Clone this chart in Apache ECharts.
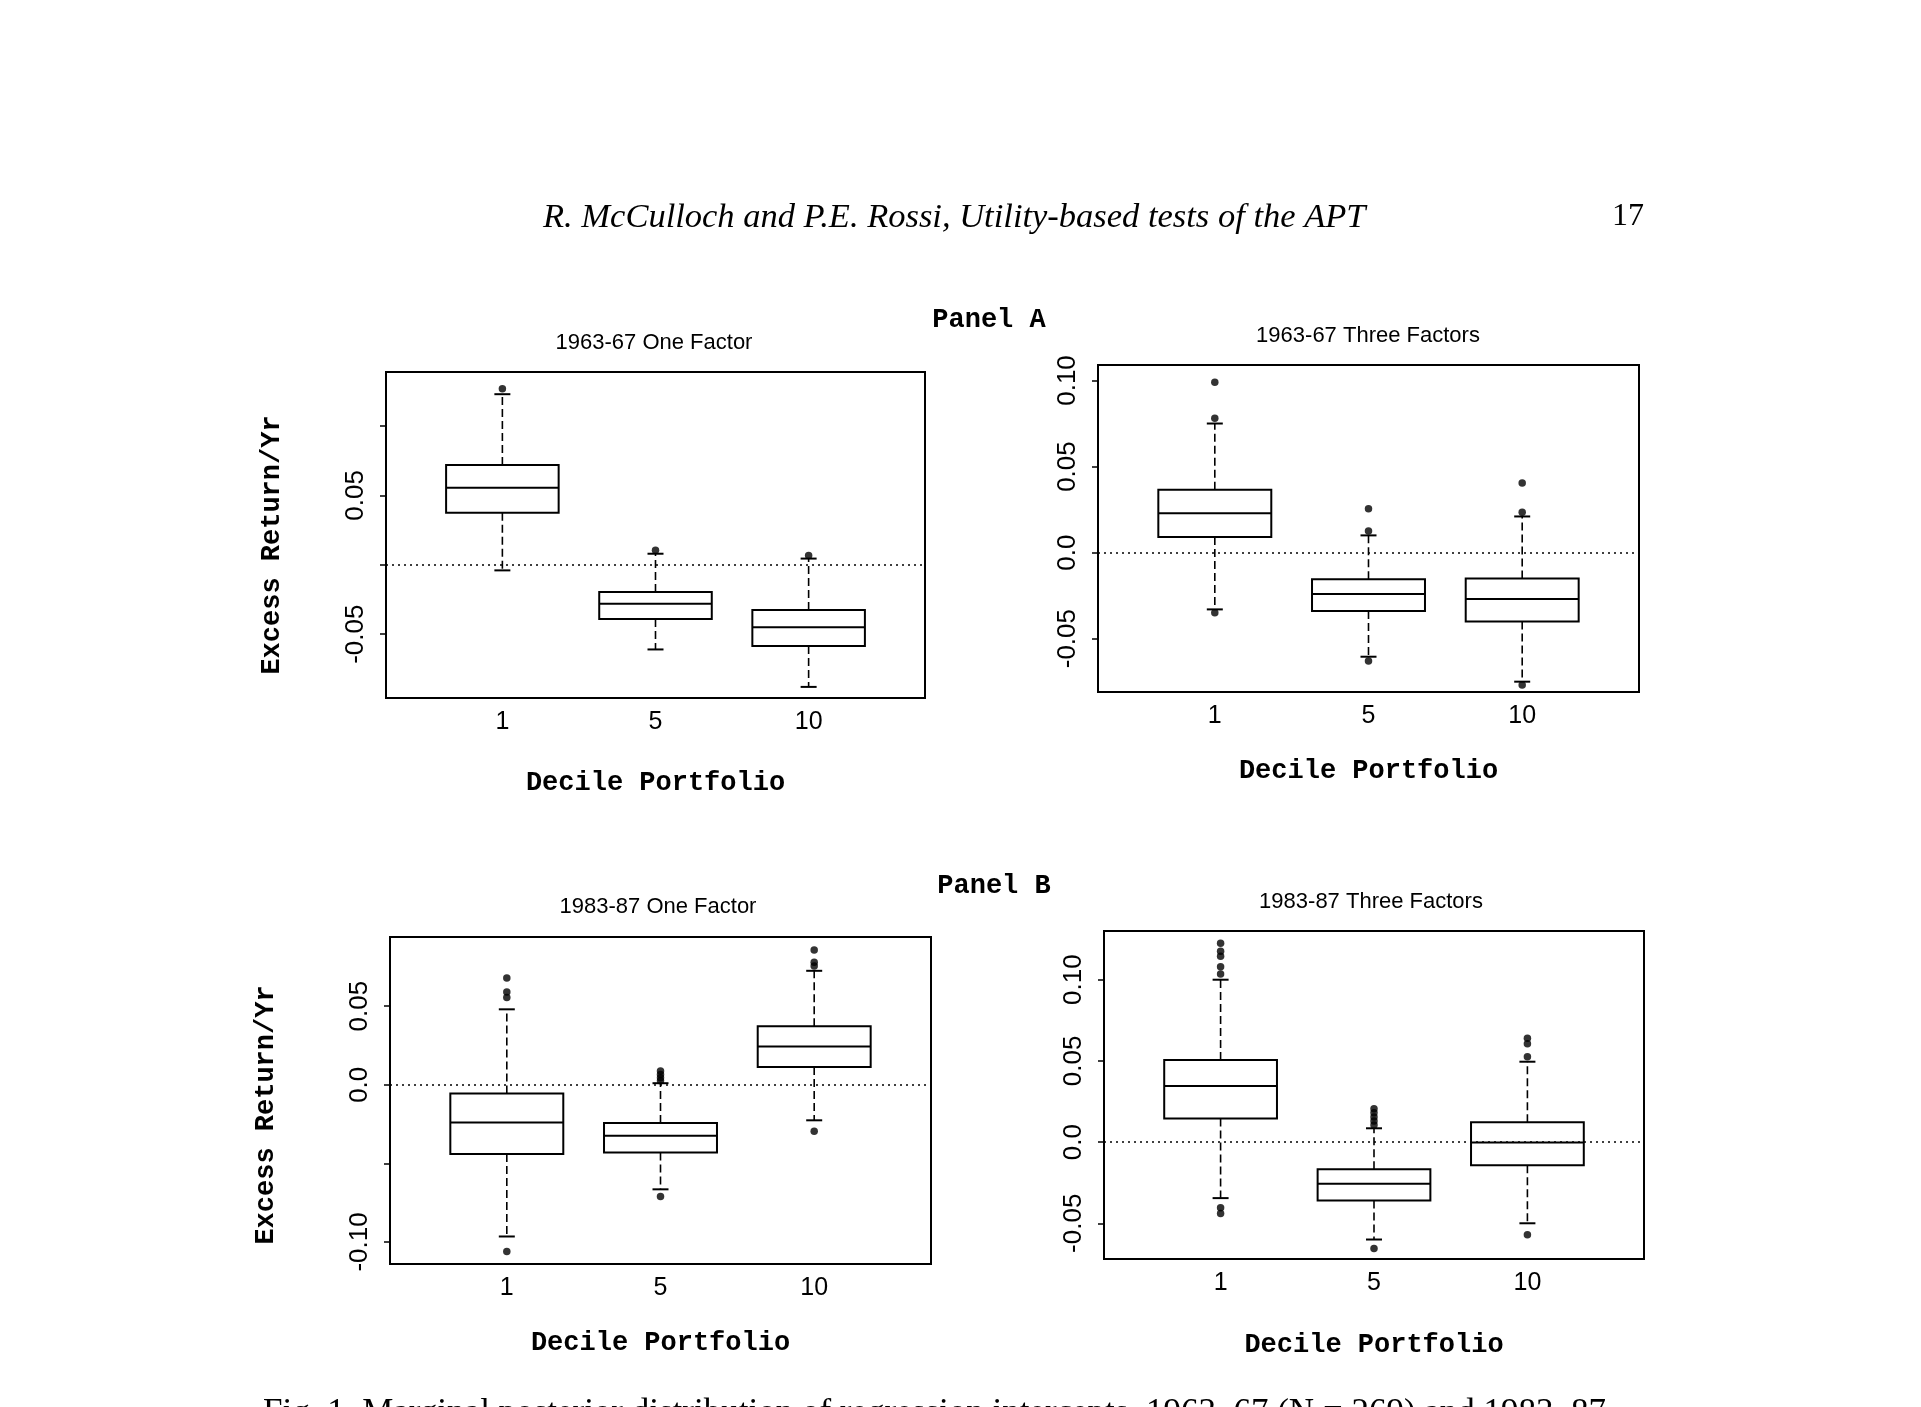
<!DOCTYPE html>
<html>
<head>
<meta charset="utf-8">
<script src="https://cdn.jsdelivr.net/npm/echarts@6/dist/echarts.min.js"></script>
<style>
  html, body { margin: 0; padding: 0; background: #fff; }
  #chart { width: 1921px; height: 1407px; }
</style>
</head>
<body>
<div id="chart"></div>
<script>
// Fig. 1: posterior distribution of regression intercepts, four boxplot panels.

const deciles = ['1', '5', '10'];

// rows: [decile index, lower whisker, Q1, median, Q3, upper whisker]
const oneFactor6367 = [
  [1, -0.004, 0.0375, 0.0555, 0.072, 0.123],
  [2, -0.061, -0.039, -0.028, -0.0195, 0.008],
  [3, -0.088, -0.0585, -0.045, -0.0325, 0.0045]
];
const oneFactor6367Out = [[1, 0.127], [2, 0.0105], [3, 0.0068]];

const threeFactor6367 = [
  [1, -0.033, 0.009, 0.0228, 0.0365, 0.075],
  [2, -0.0605, -0.034, -0.024, -0.0155, 0.010],
  [3, -0.075, -0.040, -0.027, -0.015, 0.021]
];
const threeFactor6367Out = [
  [1, 0.078], [1, 0.099], [1, -0.035],
  [2, 0.0125], [2, 0.0255], [2, -0.063],
  [3, 0.0235], [3, 0.0405], [3, -0.077]
];

const oneFactor8387 = [
  [1, -0.0965, -0.044, -0.024, -0.0055, 0.048],
  [2, -0.0665, -0.043, -0.0325, -0.0243, 0.001],
  [3, -0.0226, 0.0113, 0.0244, 0.0372, 0.0725]
];
const oneFactor8387Out = [
  [1, 0.0555], [1, 0.059], [1, 0.068], [1, -0.106],
  [2, 0.0025], [2, 0.0045], [2, 0.0065], [2, 0.0088], [2, -0.071],
  [3, 0.0755], [3, 0.078], [3, 0.0857], [3, -0.0296]
];

const threeFactor8387 = [
  [1, -0.0345, 0.0146, 0.0346, 0.0506, 0.100],
  [2, -0.060, -0.036, -0.0257, -0.0168, 0.0085],
  [3, -0.050, -0.0143, -0.0002, 0.0122, 0.0495]
];
const threeFactor8387Out = [
  [1, 0.1035], [1, 0.108], [1, 0.1145], [1, 0.1175], [1, 0.1225], [1, -0.0405], [1, -0.044],
  [2, 0.0105], [2, 0.013], [2, 0.0155], [2, 0.018], [2, 0.0205], [2, -0.0655],
  [3, 0.0525], [3, 0.0605], [3, 0.064], [3, -0.057]
];

const panelTitles = ['1963-67 One Factor', '1963-67 Three Factors', '1983-87 One Factor', '1983-87 Three Factors'];
const yRanges = [[-0.096, 0.139], [-0.081, 0.109], [-0.114, 0.094], [-0.072, 0.130]];
const yTicks = [
  [-0.05, 0, 0.05, 0.10],
  [-0.05, 0, 0.05, 0.10],
  [-0.10, -0.05, 0, 0.05],
  [-0.05, 0, 0.05, 0.10]
];
const yTickLabels = [
  [-0.05, 0.05],
  [-0.05, 0, 0.05, 0.10],
  [-0.10, 0, 0.05],
  [-0.05, 0, 0.05, 0.10]
];

const boxes = [oneFactor6367, threeFactor6367, oneFactor8387, threeFactor8387];
const outliers = [oneFactor6367Out, threeFactor6367Out, oneFactor8387Out, threeFactor8387Out];

// layout (pixels)
const grids = [
  { left: 386, top: 372, width: 539, height: 326 },
  { left: 1098, top: 365, width: 541, height: 327 },
  { left: 390, top: 937, width: 541, height: 327 },
  { left: 1104, top: 931, width: 540, height: 328 }
];
const titlePos = [[654, 332], [1368, 325], [658, 896], [1371, 891]];
const xNameGap = [72, 66, 66, 73];

const SANS = '"Liberation Sans", Arial, sans-serif';
const MONO = '"Liberation Mono", "DejaVu Sans Mono", monospace';
const SERIF = '"Liberation Serif", "Times New Roman", serif';
const BOX_W = 0.735;   // in decile-axis units
const CAP_W = 16;      // px

function renderBox(params, api) {
  const x = api.value(0);
  const lo = api.coord([x, api.value(1)]);
  const q1 = api.coord([x, api.value(2)]);
  const md = api.coord([x, api.value(3)]);
  const q3 = api.coord([x, api.value(4)]);
  const hi = api.coord([x, api.value(5)]);
  const hw = api.size([BOX_W, 0])[0] / 2;
  const cx = md[0];
  const cw = CAP_W / 2;
  const solid = { stroke: '#000', lineWidth: 2 };
  const dashed = { stroke: '#000', lineWidth: 1.6, lineDash: [8, 4] };
  return {
    type: 'group',
    children: [
      { type: 'line', shape: { x1: cx, y1: q3[1], x2: cx, y2: hi[1] }, style: dashed },
      { type: 'line', shape: { x1: cx, y1: q1[1], x2: cx, y2: lo[1] }, style: dashed },
      { type: 'line', shape: { x1: cx - cw, y1: hi[1], x2: cx + cw, y2: hi[1] }, style: solid },
      { type: 'line', shape: { x1: cx - cw, y1: lo[1], x2: cx + cw, y2: lo[1] }, style: solid },
      { type: 'rect', shape: { x: cx - hw, y: q3[1], width: 2 * hw, height: q1[1] - q3[1] },
        style: { fill: 'transparent', stroke: '#000', lineWidth: 2 } },
      { type: 'line', shape: { x1: cx - hw, y1: md[1], x2: cx + hw, y2: md[1] }, style: solid }
    ]
  };
}

const fmtY = v => Math.abs(v) < 1e-9 ? '0.0' : (+v).toFixed(2);

const option = {
  backgroundColor: '#fff',
  animation: false,
  title: panelTitles.map((t, i) => ({
    text: t,
    left: titlePos[i][0],
    top: titlePos[i][1],
    textAlign: 'center',
    padding: 0,
    textStyle: { fontFamily: SANS, fontSize: 22, fontWeight: 'normal', color: '#000' }
  })),
  grid: grids.map(g => ({ ...g, show: true, borderColor: '#000', borderWidth: 2, backgroundColor: 'transparent' })),
  xAxis: grids.map((g, i) => ({
    type: 'value',
    gridIndex: i,
    min: 0.24,
    max: 3.76,
    axisLine: { show: false },
    axisTick: { show: false },
    splitLine: { show: false },
    axisLabel: {
      customValues: [1, 2, 3],
      formatter: v => deciles[Math.round(v) - 1],
      margin: 12,
      color: '#000',
      fontFamily: SANS,
      fontSize: 25
    },
    name: 'Decile Portfolio',
    nameLocation: 'middle',
    nameGap: xNameGap[i],
    nameTextStyle: { fontFamily: MONO, fontSize: 27, fontWeight: 'bold', color: '#000' }
  })),
  yAxis: grids.map((g, i) => ({
    type: 'value',
    gridIndex: i,
    min: yRanges[i][0],
    max: yRanges[i][1],
    axisLine: { show: false },
    splitLine: { show: false },
    axisTick: {
      show: true,
      customValues: yTicks[i],
      length: 6,
      lineStyle: { color: '#000', width: 1.5 }
    },
    axisLabel: {
      customValues: yTickLabels[i],
      formatter: fmtY,
      rotate: 90,
      margin: 17,
      color: '#000',
      fontFamily: SANS,
      fontSize: 26
    }
  })),
  graphic: [
    { type: 'text', left: 543, top: 200,
      style: { text: 'R. McCulloch and P.E. Rossi, Utility-based tests of the APT', font: 'italic 34.5px ' + SERIF, fill: '#000' } },
    { type: 'text', left: 1612, top: 201,
      style: { text: '17', font: '32px ' + SERIF, fill: '#000' } },
    { type: 'text', x: 989, y: 320,
      style: { text: 'Panel A', font: 'bold 27px ' + MONO, fill: '#000', align: 'center', verticalAlign: 'middle' } },
    { type: 'text', x: 994, y: 886,
      style: { text: 'Panel B', font: 'bold 27px ' + MONO, fill: '#000', align: 'center', verticalAlign: 'middle' } },
    { type: 'text', x: 272, y: 545, rotation: Math.PI / 2,
      style: { text: 'Excess Return/Yr', font: 'bold 27px ' + MONO, fill: '#000', align: 'center', verticalAlign: 'middle' } },
    { type: 'text', x: 266, y: 1115, rotation: Math.PI / 2,
      style: { text: 'Excess Return/Yr', font: 'bold 27px ' + MONO, fill: '#000', align: 'center', verticalAlign: 'middle' } },
    { type: 'text', left: 263, top: 1396,
      style: { text: 'Fig. 1. Marginal posterior distribution of regression intercepts, 1963\u201367 (N = 269) and 1983\u201387', font: '35px ' + SERIF, fill: '#000' } }
  ],
  series: []
};

boxes.forEach((data, i) => {
  option.series.push({
    type: 'custom',
    xAxisIndex: i,
    yAxisIndex: i,
    renderItem: renderBox,
    encode: { x: 0, y: [1, 2, 3, 4, 5] },
    data: data,
    silent: true
  });
  option.series.push({
    type: 'scatter',
    xAxisIndex: i,
    yAxisIndex: i,
    symbol: 'circle',
    symbolSize: 7.5,
    itemStyle: { color: '#000' },
    data: outliers[i],
    silent: true,
    markLine: {
      silent: true,
      symbol: 'none',
      label: { show: false },
      lineStyle: { color: '#000', type: [2, 4], width: 1.6 },
      data: [{ yAxis: 0 }]
    }
  });
});

const chart = echarts.init(document.getElementById('chart'), null, { renderer: 'canvas' });
chart.setOption(option);
</script>
</body>
</html>
